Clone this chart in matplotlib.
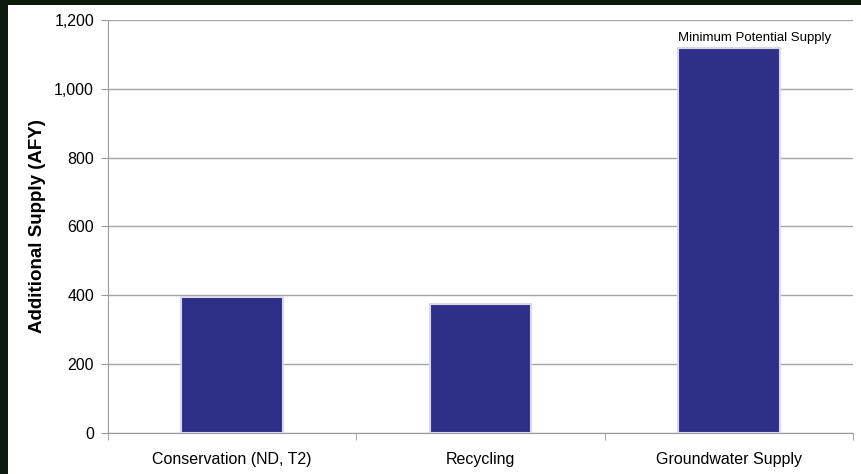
import matplotlib.pyplot as plt
from matplotlib.patches import Rectangle

categories = ['Conservation (ND, T2)', 'Recycling', 'Groundwater Supply']
supply = [395, 374, 1120]
yticks = [0, 200, 400, 600, 800, 1000, 1200]
ytick_labels = ['0', '200', '400', '600', '800', '1,000', '1,200']

plt.rcParams['font.family'] = ['Liberation Sans', 'DejaVu Sans']

fig = plt.figure(figsize=(8.62, 4.74), dpi=100, facecolor='#0c1a0c')
# white panel inside the dark frame
fig.patches.append(Rectangle((8 / 862, 0), 1, 1 - 5 / 474, transform=fig.transFigure,
                             facecolor='white', edgecolor='none', zorder=-1))

ax = fig.add_axes([108 / 862, 41 / 474, 745 / 862, 413 / 474])
ax.set_facecolor('white')
x = range(len(categories))
ax.bar(x, supply, width=0.41, color='#2e3087', edgecolor='#d8d8ec', linewidth=1.5, zorder=3)
ax.text(2 - 0.205, supply[2] + 10, 'Minimum Potential Supply', ha='left', va='bottom',
        fontsize=9.5, zorder=4)

ax.set_xlim(-0.5, 2.5)
ax.set_ylim(0, 1200)
ax.set_yticks(yticks)
ax.set_yticklabels(ytick_labels, fontsize=11.5)
ax.set_xticks(x)
ax.set_xticklabels(categories, fontsize=11.5)
ax.set_xticks([-0.5, 0.5, 1.5, 2.5], minor=True)
ax.tick_params(axis='x', which='major', length=0, pad=14)
ax.tick_params(axis='x', which='minor', length=5, color='#999999')
ax.tick_params(axis='y', length=5, color='#999999', pad=5)
ax.yaxis.grid(True, color='#a6a6a6', linewidth=1, zorder=0)
ax.set_axisbelow(True)
for s in ['top', 'right']:
    ax.spines[s].set_visible(False)
for s in ['left', 'bottom']:
    ax.spines[s].set_color('#999999')
ax.set_ylabel('Additional Supply (AFY)', fontsize=13.5, fontweight='bold', labelpad=6)

fig.savefig('out.png', dpi=100, facecolor=fig.get_facecolor())
